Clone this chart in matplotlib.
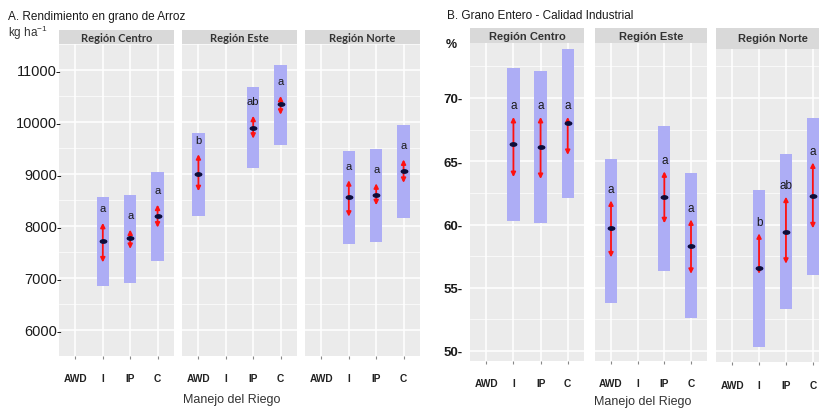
import numpy as np
import matplotlib
matplotlib.use("Agg")
import matplotlib.pyplot as plt
from matplotlib.path import Path
from matplotlib.transforms import Affine2D

plt.rcParams['font.family'] = ['Liberation Sans', 'DejaVu Sans']

# ---------------------------------------------------------------------
# Data
# ---------------------------------------------------------------------
regions = ["Región Centro", "Región Este", "Región Norte"]
treatments = ["AWD", "I", "IP", "C"]
nan = np.nan

# A. Rendimiento (kg/ha)
yield_mean = [[nan, 7720, 7760, 8200],
              [9000, nan, 9890, 10350],
              [nan, 8550, 8600, 9050]]
yield_ci_low = [[nan, 7300, 7560, 7970],
                [8670, nan, 9680, 10140],
                [nan, 8180, 8400, 8830]]
yield_ci_high = [[nan, 8060, 7930, 8410],
                 [9380, nan, 10120, 10500],
                 [nan, 8880, 8820, 9280]]
yield_bar_low = [[nan, 6850, 6900, 7330],
                 [8200, nan, 9120, 9560],
                 [nan, 7660, 7700, 8150]]
yield_bar_high = [[nan, 8560, 8590, 9030],
                  [9790, nan, 10680, 11100],
                  [nan, 9450, 9490, 9950]]
yield_letters = [["", "a", "a", "a"],
                 ["b", "", "ab", "a"],
                 ["", "a", "a", "a"]]
yield_ticks = [6000, 7000, 8000, 9000, 10000, 11000]

# B. Grano entero (%)
whole_mean = [[nan, 66.4, 66.1, 68.0],
              [59.7, nan, 62.2, 58.3],
              [nan, 56.6, 59.4, 62.25]]
whole_ci_low = [[nan, 63.75, 63.6, 65.5],
                [57.4, nan, 60.1, 56.1],
                [nan, 56.1, 56.9, 59.7]]
whole_ci_high = [[nan, 68.5, 68.5, 68.5],
                 [61.9, nan, 64.2, 60.4],
                 [nan, 59.3, 62.2, 64.9]]
whole_bar_low = [[nan, 60.3, 60.1, 62.1],
                 [53.8, nan, 56.3, 52.6],
                 [nan, 50.3, 53.3, 56.0]]
whole_bar_high = [[nan, 72.4, 72.1, 73.9],
                  [65.2, nan, 67.8, 64.1],
                  [nan, 62.7, 65.6, 68.4]]
whole_letters = [["", "a", "a", "a"],
                 ["a", "", "a", "a"],
                 ["", "b", "ab", "a"]]
whole_ticks = [50, 55, 60, 65, 70]

# ---------------------------------------------------------------------
# Helpers
# ---------------------------------------------------------------------
W, H = 819, 410
fig = plt.figure(figsize=(W / 100, H / 100), dpi=100)


def px_rect(x0, y0, x1, y1):
    return [x0 / W, 1 - y1 / H, (x1 - x0) / W, (y1 - y0) / H]


def px_text(x, y, s, **kw):
    fig.text(x / W, 1 - y / H, s, **kw)


oval = Path.unit_circle().transformed(Affine2D().scale(1.9, 1.0))


def strip(x0, y0, x1, y1, label, family):
    sa = fig.add_axes(px_rect(x0, y0, x1, y1))
    sa.set_facecolor('#D9D9D9')
    sa.set_xticks([])
    sa.set_yticks([])
    for s in sa.spines.values():
        s.set_visible(False)
    sa.text(0.5, 0.5, label, ha='center', va='center', fontsize=8,
            fontweight='bold', color='#333333', family=family,
            transform=sa.transAxes)


def panel(rect, ylim, ticks, minor, mean, lo, hi, blo, bhi, letters,
          letter_off, letter_size, show_y, ylab_kw, ylab_pad, xlab_pad):
    ax = fig.add_axes(px_rect(*rect))
    ax.set_facecolor('#EBEBEB')
    for s in ax.spines.values():
        s.set_visible(False)
    x = np.arange(1, len(treatments) + 1)
    ax.set_xlim(0.4, 4.6)
    ax.set_ylim(*ylim)
    ax.set_yticks(ticks)
    ax.set_yticks(minor, minor=True)
    ax.grid(which='major', color='white', lw=1.1, zorder=0)
    ax.grid(which='minor', color='white', lw=0.5, zorder=0)
    ax.set_axisbelow(True)
    ax.set_xticks(x)
    ax.set_xticklabels(treatments, fontsize=7.3, fontweight='bold',
                       color='#222222')
    ax.tick_params(axis='x', length=2, color='#888888', pad=xlab_pad)
    ax.tick_params(axis='y', which='both', length=0)
    if show_y:
        ax.set_yticklabels(["{}-".format(t) for t in ticks], **ylab_kw)
        ax.tick_params(axis='y', pad=ylab_pad)
    else:
        ax.set_yticklabels([])

    mean, lo, hi = np.array(mean), np.array(lo), np.array(hi)
    blo, bhi = np.array(blo), np.array(bhi)
    ok = ~np.isnan(mean)
    ax.bar(x[ok], bhi[ok] - blo[ok], bottom=blo[ok], width=0.45,
           color='#ADADF5', zorder=2)
    for xi, m, l, h, lt in zip(x[ok], mean[ok], lo[ok], hi[ok],
                               np.array(letters)[ok]):
        ax.annotate('', xy=(xi, h), xytext=(xi, l),
                    arrowprops=dict(arrowstyle='<|-|>', color='#FF1010',
                                    lw=1.3, mutation_scale=6.5,
                                    shrinkA=0, shrinkB=0), zorder=3)
        ax.plot([xi], [m], marker=oval, ms=4.6, color='#0D0D3A', zorder=4)
        ax.annotate(lt, xy=(xi, h), xytext=(0, letter_off),
                    textcoords='offset points', ha='center', va='center',
                    fontsize=letter_size, color='#1A1A1A', zorder=5)
    return ax


def px_to_val(py, py_a, v_a, py_b, v_b):
    return v_a + (py - py_a) * (v_b - v_a) / (py_b - py_a)


# ---------------------------------------------------------------------
# A. Rendimiento en grano de Arroz
# ---------------------------------------------------------------------
px_text(8, 17, "A. Rendimiento en grano de Arroz", fontsize=8.5,
        color='#1A1A1A', va='center')
px_text(8, 33, r"kg ha$^{\mathregular{-1}}$", fontsize=8.5,
        color='#333333', va='center')

a_cols = [(59, 174), (182, 297), (305, 420)]
a_top, a_bot = 45, 357
a_ylim = (px_to_val(a_bot, 64, 11000, 337, 6000),
          px_to_val(a_top, 64, 11000, 337, 6000))
a_minor = [t + 500 for t in yield_ticks[:-1]] + [5500, 11500]
for i, (x0, x1) in enumerate(a_cols):
    strip(x0, 31, x1, a_top, regions[i], ['Lato', 'DejaVu Sans'])
    panel((x0, a_top, x1, a_bot), a_ylim, yield_ticks, a_minor,
          yield_mean[i], yield_ci_low[i], yield_ci_high[i],
          yield_bar_low[i], yield_bar_high[i], yield_letters[i],
          10.5, 8, i == 0, dict(fontsize=10.5, color='#1A1A1A'), -2, 10)
px_text(232, 400, "Manejo del Riego", fontsize=9, color='#333333',
        ha='center', va='center')

# ---------------------------------------------------------------------
# B. Grano Entero - Calidad Industrial
# ---------------------------------------------------------------------
px_text(447, 16, "B. Grano Entero - Calidad Industrial", fontsize=8.5,
        color='#1A1A1A', va='center')
px_text(446, 45, "%", fontsize=9, fontweight='bold', color='#1A1A1A',
        va='center')

b_cols = [(470, 584, 44, 362), (595, 707, 44, 362), (716, 829, 50, 363)]
b_minor = [52.5, 57.5, 62.5, 67.5, 72.5]
for i, (x0, x1, t, b) in enumerate(b_cols):
    strip(x0, 29, x1, t, regions[i], ['Liberation Sans', 'DejaVu Sans'])
    ylim = (px_to_val(b, 99, 70, 352, 50), px_to_val(t, 99, 70, 352, 50))
    panel((x0, t, x1, b), ylim, whole_ticks, b_minor,
          whole_mean[i], whole_ci_low[i], whole_ci_high[i],
          whole_bar_low[i], whole_bar_high[i], whole_letters[i],
          8.5, 8.5, i == 0,
          dict(fontsize=9.5, fontweight='bold', color='#1A1A1A'),
          5, 10 + (b - 362))
px_text(643, 402, "Manejo del Riego", fontsize=9, color='#333333',
        ha='center', va='center')

fig.savefig("out.png", dpi=100)
